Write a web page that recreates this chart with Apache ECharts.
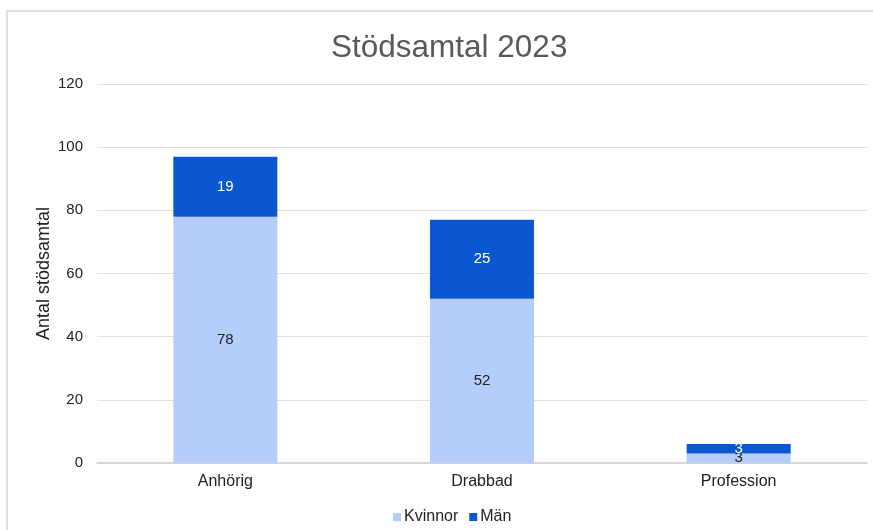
<!DOCTYPE html>
<html>
<head>
<meta charset="utf-8">
<script src="https://cdn.jsdelivr.net/npm/echarts@6/dist/echarts.min.js"></script>
<style>
    html, body { margin: 0; padding: 0; background: #fff; }
    #chart { width: 873px; height: 530px; }
</style>
</head>
<body>
<div id="chart"></div>
<script>
    // data
    var categories = ['Anhörig', 'Drabbad', 'Profession'];
    var kvinnor = [78, 52, 3];
    var man = [19, 25, 3];
    var yTicks = [0, 20, 40, 60, 80, 100, 120];

    var font = 'Liberation Sans, Arial, sans-serif';
    var myChart = echarts.init(document.getElementById('chart'));
    var option = {
        animation: false,
        textStyle: { fontFamily: font },
        graphic: [{
            type: 'rect',
            shape: { x: 7, y: 11, width: 900, height: 600 },
            style: { fill: 'none', stroke: '#dedede', lineWidth: 2 },
            silent: true
        }],
        title: {
            text: 'Stödsamtal 2023',
            left: 326,
            top: 27,
            textStyle: {
                color: '#595959',
                fontSize: 31.5,
                fontWeight: 'normal',
                fontFamily: font
            }
        },
        legend: {
            bottom: 0,
            left: 388,
            icon: 'rect',
            itemWidth: 8,
            itemHeight: 8,
            itemGap: 11,
            textStyle: { color: '#222', fontSize: 16, fontFamily: font, padding: [0, 0, 0, -2] },
            data: ['Kvinnor', 'Män']
        },
        grid: {
            left: 97,
            right: 6,
            top: 84,
            bottom: 67,
            containLabel: false
        },
        xAxis: {
            type: 'category',
            data: categories,
            axisTick: { show: false },
            axisLine: { lineStyle: { color: '#cccccc', width: 1.5 } },
            axisLabel: { color: '#222', fontSize: 16, margin: 11 }
        },
        yAxis: {
            type: 'value',
            min: yTicks[0],
            max: yTicks[yTicks.length - 1],
            interval: 20,
            name: 'Antal stödsamtal',
            nameLocation: 'middle',
            nameGap: 44,
            nameMoveOverlap: false,
            nameTextStyle: { color: '#222', fontSize: 18 },
            axisLine: { show: false },
            axisTick: { show: false },
            axisLabel: { color: '#222', fontSize: 15, margin: 14 },
            splitLine: { lineStyle: { color: '#e0e0e0', width: 1 } }
        },
        series: [
            {
                name: 'Kvinnor',
                type: 'bar',
                stack: 'sum',
                barWidth: 104,
                itemStyle: { color: '#b5cdfa' },
                label: { show: true, position: 'inside', color: '#222', fontSize: 15 },
                data: kvinnor
            },
            {
                name: 'Män',
                type: 'bar',
                stack: 'sum',
                barWidth: 104,
                itemStyle: { color: '#0b57d0' },
                label: { show: true, position: 'inside', color: '#fff', fontSize: 15 },
                data: man
            }
        ]
    };
    myChart.setOption(option);
</script>
</body>
</html>
